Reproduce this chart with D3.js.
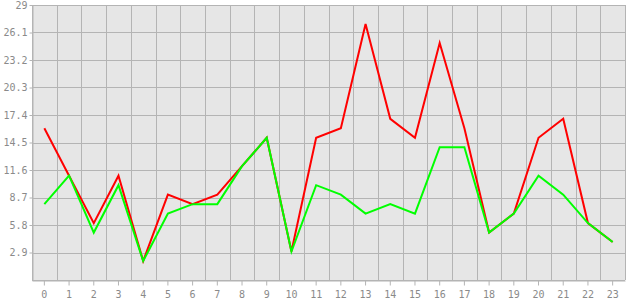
<!DOCTYPE html>
<html><head><meta charset="utf-8">
<script src="https://cdn.jsdelivr.net/npm/d3@7"></script>
<style>html,body{margin:0;padding:0;background:#fff;}</style>
</head><body>
<svg id="c" width="630" height="300"></svg>
<script>
const categories = d3.range(0, 24).map(String);
const redValues = [16, 11, 6, 11, 2, 9, 8, 9, 12, 15, 3, 15, 16, 27, 17, 15, 25, 16, 5, 7, 15, 17, 6, 4];
const greenValues = [8, 11, 5, 10, 2, 7, 8, 8, 12, 15, 3, 10, 9, 7, 8, 7, 14, 14, 5, 7, 11, 9, 6, 4];
const yTicks = [0, 2.9, 5.8, 8.7, 11.6, 14.5, 17.4, 20.3, 23.2, 26.1, 29];

const m = {l: 32, r: 5, t: 5, b: 20};
const W = 630, H = 300;
const svg = d3.select("#c");
const x = d3.scaleBand().domain(categories).range([m.l, W - m.r]).paddingInner(0).paddingOuter(0);
const y = d3.scaleLinear().domain([0, 29]).range([H - m.b, m.t]);
const gridC = "#b4b4b4", textC = "#8a8a8a";

svg.append("rect").attr("x", m.l).attr("y", m.t).attr("width", W - m.r - m.l).attr("height", H - m.b - m.t).attr("fill", "#e6e6e6");

// horizontal grid
svg.append("g").selectAll("line").data(yTicks).join("line")
  .attr("x1", m.l).attr("x2", W - m.r)
  .attr("y1", d => Math.round(y(d)) + 0.5).attr("y2", d => Math.round(y(d)) + 0.5)
  .attr("stroke", gridC).attr("stroke-width", 1);
// vertical grid at band boundaries
const bounds = categories.map(c => x(c)).concat([W - m.r]);
svg.append("g").selectAll("line").data(bounds).join("line")
  .attr("x1", d => Math.round(d) + 0.5).attr("x2", d => Math.round(d) + 0.5)
  .attr("y1", m.t).attr("y2", H - m.b)
  .attr("stroke", gridC).attr("stroke-width", 1);

// axes
const yAxis = d3.axisLeft(y).tickValues(yTicks.filter(d => d !== 0)).tickFormat(d => String(d))
  .tickSize(3).tickSizeOuter(0).tickPadding(2);
const gy = svg.append("g").attr("transform", `translate(${m.l + 0.5},0)`).call(yAxis);
const xAxis = d3.axisBottom(x).tickSize(5).tickSizeOuter(0).tickPadding(5);
const gx = svg.append("g").attr("transform", `translate(0,${Math.round(H - m.b) + 0.5})`).call(xAxis);
[gy, gx].forEach(g => {
  g.select(".domain").attr("stroke", gridC);
  g.selectAll(".tick line").attr("stroke", gridC);
  g.selectAll("text").attr("fill", textC).attr("font-family", "DejaVu Sans Mono, monospace").attr("font-size", 10);
});

const line = d3.line().x((d, i) => x(categories[i]) + x.bandwidth() / 2).y(d => y(d));
svg.append("path").datum(redValues).attr("d", line).attr("fill", "none").attr("stroke", "#ff0000").attr("stroke-width", 2);
svg.append("path").datum(greenValues).attr("d", line).attr("fill", "none").attr("stroke", "#00ff00").attr("stroke-width", 2);
</script>
</body></html>
